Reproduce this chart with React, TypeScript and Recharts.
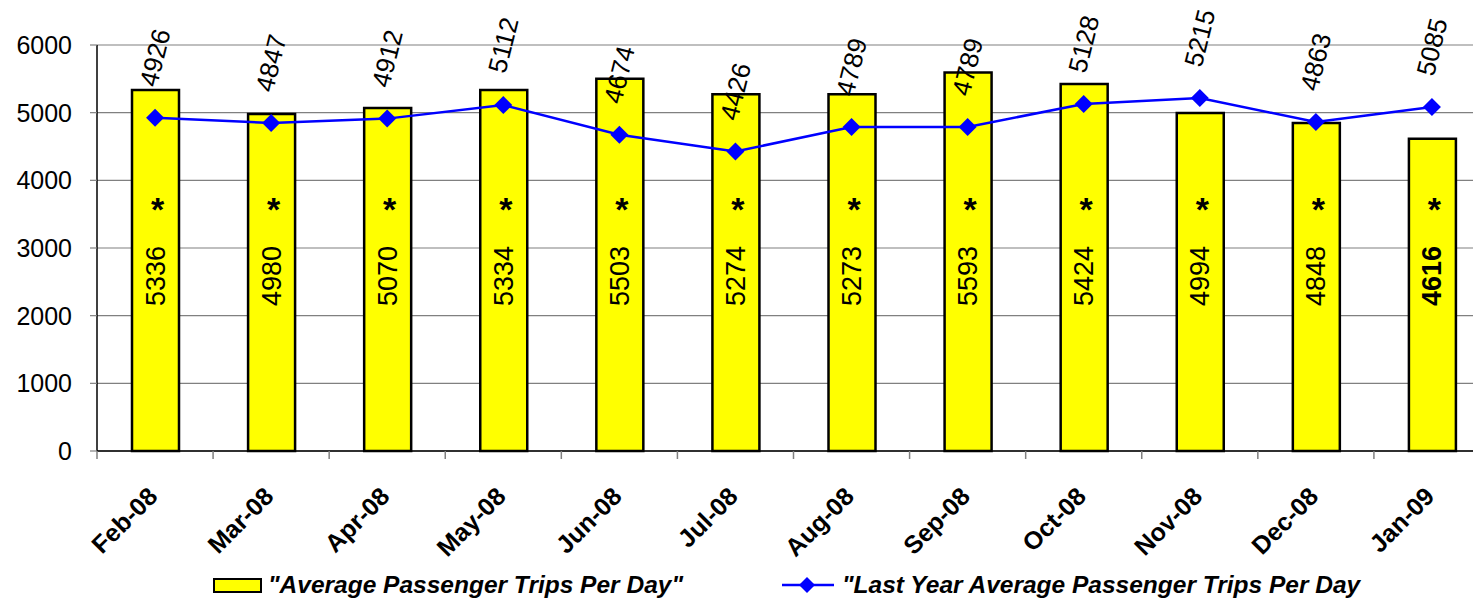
import { Bar, CartesianGrid, ComposedChart, LabelList, Legend, Line, XAxis, YAxis } from "recharts";

const months = ["Feb-08", "Mar-08", "Apr-08", "May-08", "Jun-08", "Jul-08", "Aug-08", "Sep-08", "Oct-08", "Nov-08", "Dec-08", "Jan-09"];
const avgTrips = [5336, 4980, 5070, 5334, 5503, 5274, 5273, 5593, 5424, 4994, 4848, 4616];
const lastYearTrips = [4926, 4847, 4912, 5112, 4674, 4426, 4789, 4789, 5128, 5215, 4863, 5085];
const yTicks = [0, 1000, 2000, 3000, 4000, 5000, 6000];
const highlightMonth = "Jan-09";

const avgName = "\"Average Passenger Trips Per Day\"";
const lastYearName = "\"Last Year Average Passenger Trips Per Day";

const rows = months.map((month, i) => ({ month, avg: avgTrips[i], lastYear: lastYearTrips[i] }));

const FONT = '"Liberation Sans", Arial, sans-serif';
const CHART_W = 1500;
const CHART_H = 603;
const Y_AXIS_W = 97;
const RIGHT = 10;
const BAND = (CHART_W - Y_AXIS_W - RIGHT) / months.length;

function MonthTick(props: any) {
  const { x, y, payload } = props;
  const tx = x + 4;
  const ty = y + 39;
  return (
    <g>
      <line x1={x - BAND / 2} x2={x - BAND / 2} y1={y - 8} y2={y} stroke="#808080" strokeWidth={1.5} />
      <text
        x={tx}
        y={ty}
        transform={`rotate(-45 ${tx} ${ty})`}
        textAnchor="end"
        fontFamily={FONT}
        fontWeight="bold"
        fontSize={25}
        fill="#000"
      >
        {payload.value}
      </text>
    </g>
  );
}

function Diamond(props: any) {
  const { cx, cy } = props;
  if (cx == null || cy == null) return null;
  const r = 9;
  return <path d={`M${cx},${cy - r} L${cx + r},${cy} L${cx},${cy + r} L${cx - r},${cy} Z`} fill="#0000FF" />;
}

function BarValueLabel(props: any) {
  const { x, y, width, height, value, index } = props;
  const cx = x + width / 2;
  const base = y + height;
  const ty = base - 175;
  const bold = months[index] === highlightMonth;
  return (
    <g>
      <text x={cx + 2} y={base - 230} textAnchor="middle" fontFamily={FONT} fontWeight="bold" fontSize={34} fill="#000">
        *
      </text>
      <text
        x={cx}
        y={ty}
        transform={`rotate(-90 ${cx} ${ty})`}
        textAnchor="middle"
        dominantBaseline="central"
        fontFamily={FONT}
        fontWeight={bold ? "bold" : "normal"}
        fontSize={27}
        fill="#000"
      >
        {value}
      </text>
    </g>
  );
}

function LastYearLabel(props: any) {
  const { x, y, value } = props;
  const ly = y - 60;
  return (
    <text
      x={x}
      y={ly}
      transform={`rotate(-76 ${x} ${ly})`}
      textAnchor="middle"
      dominantBaseline="central"
      fontFamily={FONT}
      fontSize={26}
      fill="#000"
    >
      {value}
    </text>
  );
}

function LegendRow() {
  const textStyle: React.CSSProperties = {
    position: "absolute",
    top: 10,
    fontFamily: FONT,
    fontWeight: "bold",
    fontStyle: "italic",
    fontSize: 24.5,
    lineHeight: "24px",
    whiteSpace: "nowrap",
    color: "#000",
  };
  return (
    <div style={{ position: "relative", width: CHART_W, height: 40 }}>
      <div
        style={{
          position: "absolute",
          left: 213,
          top: 15,
          width: 49,
          height: 15,
          boxSizing: "border-box",
          background: "#FFFF00",
          border: "2px solid #000",
        }}
      />
      <span style={{ ...textStyle, left: 268 }}>{avgName}</span>
      <svg style={{ position: "absolute", left: 778, top: 10 }} width={60} height={24}>
        <line x1={4} x2={56} y1={12} y2={12} stroke="#0000FF" strokeWidth={2.5} />
        <path d="M29,4 L37,12 L29,20 L21,12 Z" fill="#0000FF" />
      </svg>
      <span style={{ ...textStyle, left: 842 }}>{lastYearName}</span>
    </div>
  );
}

export default function App() {
  return (
    <div style={{ position: "absolute", left: 0, top: 0, width: 1473, height: 603, overflow: "hidden", background: "#fff" }}>
      <ComposedChart
        width={CHART_W}
        height={CHART_H}
        data={rows}
        margin={{ top: 45, right: RIGHT, left: 0, bottom: 0 }}
        barCategoryGap={0}
      >
        <CartesianGrid vertical={false} stroke="#808080" strokeWidth={1.2} />
        <XAxis
          dataKey="month"
          height={112}
          interval={0}
          tickLine={false}
          tickSize={8}
          tickMargin={0}
          axisLine={{ stroke: "#000", strokeWidth: 1.5 }}
          tick={<MonthTick />}
        />
        <YAxis
          width={Y_AXIS_W}
          domain={[0, 6000]}
          ticks={yTicks}
          interval={0}
          tickSize={7}
          tickMargin={18}
          axisLine={{ stroke: "#000", strokeWidth: 1.5 }}
          tickLine={{ stroke: "#808080", strokeWidth: 1.2 }}
          tick={{ fontFamily: FONT, fontSize: 25, fill: "#000" }}
        />
        <Legend
          verticalAlign="bottom"
          content={() => <LegendRow />}
          wrapperStyle={{ left: 0, width: CHART_W, height: 40 }}
        />
        <Bar dataKey="avg" name={avgName} barSize={47} fill="#FFFF00" stroke="#000" strokeWidth={2.5} isAnimationActive={false}>
          <LabelList dataKey="avg" content={<BarValueLabel />} />
        </Bar>
        <Line
          dataKey="lastYear"
          name={lastYearName}
          stroke="#0000FF"
          strokeWidth={2.5}
          dot={<Diamond />}
          activeDot={false}
          isAnimationActive={false}
        >
          <LabelList dataKey="lastYear" content={<LastYearLabel />} />
        </Line>
      </ComposedChart>
    </div>
  );
}
